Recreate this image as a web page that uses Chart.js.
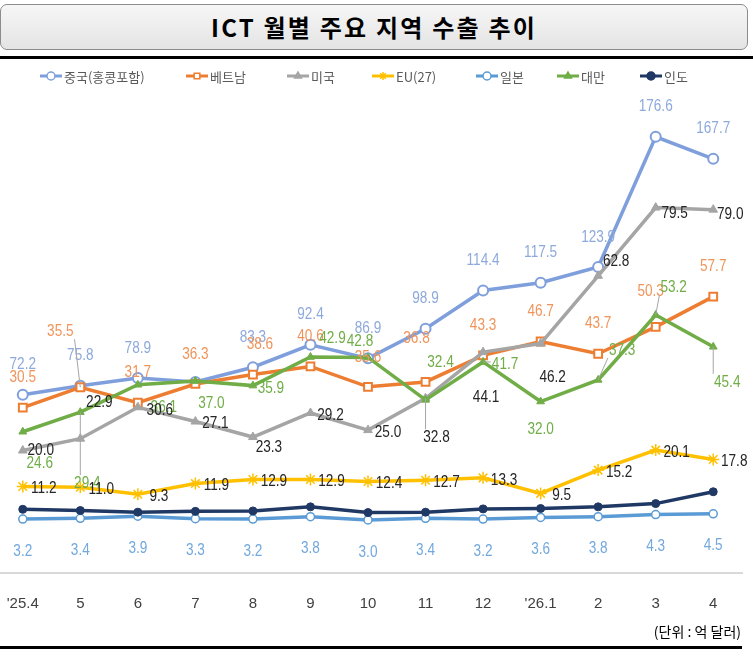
<!DOCTYPE html>
<html><head><meta charset="utf-8">
<script src="https://cdn.jsdelivr.net/npm/chart.js@4/dist/chart.umd.min.js"></script>
<style>
html,body{margin:0;padding:0;background:#fff;}
body{width:753px;height:657px;position:relative;overflow:hidden;font-family:"Noto Sans CJK KR",sans-serif;}
#title{position:absolute;left:0;top:4px;width:746px;height:44px;border:1px solid #8c8c8c;border-radius:7px;
 background:linear-gradient(#f6f6f6,#e4e4e4);text-align:center;line-height:44px;font-weight:bold;font-size:24px;letter-spacing:2.2px;color:#000;}
#ruleTop{position:absolute;left:0;top:56px;width:753px;height:3px;background:#000;}
#ruleBot{position:absolute;left:0;top:646px;width:742px;height:3px;background:#000;}
#unit{position:absolute;right:12px;top:621px;font-size:14px;color:#000;}
#c{position:absolute;left:-6px;top:0;}
</style></head>
<body>
<div id="title">ICT 월별 주요 지역 수출 추이</div>
<div id="ruleTop"></div>
<canvas id="c" width="760" height="645"></canvas>
<div id="unit">(단위 : 억 달러)</div>
<div id="ruleBot"></div>
<script>
const categories = ["'25.4","5","6","7","8","9","10","11","12","'26.1","2","3","4"];
const seriesNames = ["중국(홍콩포함)","베트남","미국","EU(27)","일본","대만","인도"];
const china   = [72.2,75.8,78.9,77.3,83.3,92.4,86.9,98.9,114.4,117.5,123.9,176.6,167.7];
const vietnam = [30.5,35.5,31.7,36.3,38.6,40.6,35.6,36.8,43.3,46.7,43.7,50.3,57.7];
const usa     = [20.0,22.9,30.6,27.1,23.3,29.2,25.0,32.8,44.1,46.2,62.8,79.5,79.0];
const eu      = [11.2,11.0,9.3,11.9,12.9,12.9,12.4,12.7,13.3,9.5,15.2,20.1,17.8];
const japan   = [3.2,3.4,3.9,3.3,3.2,3.8,3.0,3.4,3.2,3.6,3.8,4.3,4.5];
const taiwan  = [24.6,29.4,36.1,37.0,35.9,42.9,42.8,32.4,41.7,32.0,37.3,53.2,45.4];
const india   = [5.6,5.3,4.9,5.1,5.2,6.2,4.8,4.9,5.7,5.8,6.2,7.0,9.9];

// ---- styling / layout config (not data) ----
const lineColors  = ['#7F9FDC','#ED7D31','#A5A5A5','#FFC000','#5B9BD5','#70AD47','#203864'];
const labelColors = ['#8EA9DB','#F0945A','#262626','#262626','#72A8DC','#70AD47',null];
const labelLayout = [
  {def:[0,-30], over:{}, hide:[3]},
  {def:[0,-30], over:{1:[-20,-56],4:[7,-30],7:[-9,-44],11:[-5,-36]}, hide:[]},
  {def:[20,2], over:{0:[18,0],1:[19,-36],2:[22,3],4:[16,10],7:[11,39],8:[3,45],9:[12,34],10:[18,-14],11:[19,6],12:[17,5]}, hide:[]},
  {def:[21,2], over:{}, hide:[]},
  {def:[0,32], over:{}, hide:[]},
  {def:[18,3], over:{0:[17,32],1:[7,71],2:[26,23],3:[16,22],5:[22,-19],6:[-8,-16],7:[15,-38],8:[22,2],9:[0,28],10:[24,-30],11:[18,-28],12:[14,35]}, hide:[]},
  null
];
const leaders = [[1,1],[2,0],[2,7],[5,1],[5,8],[5,10],[5,11],[5,12]];
const labelOrder = [0,1,5,2,3,4];
const legendX = [40,186,287,372,476,557,640];
const LABEL_FONT = '17px "Liberation Sans","Arial",sans-serif';
const CONDENSE = 0.8;

function ds(i, data, style, axis){
  return Object.assign({
    label: seriesNames[i], data, yAxisID: axis || 'y',
    borderColor: lineColors[i], backgroundColor: lineColors[i],
    borderWidth: 3.5, tension: 0, clip: false, order: 7 - i
  }, style);
}
const datasets = [
  ds(0, china,   {pointStyle:'circle', pointRadius:5, pointBorderWidth:2, pointBackgroundColor:'#fff'}, 'y2'),
  ds(1, vietnam, {pointStyle:'rect', pointRadius:5.5, pointBorderWidth:2, pointBackgroundColor:'#fff'}),
  ds(2, usa,     {pointStyle:'triangle', pointRadius:5, pointBorderWidth:1, pointBackgroundColor:'#A5A5A5'}),
  ds(3, eu,      {pointStyle:'star', pointRadius:6, pointBorderWidth:1.5, pointBackgroundColor:'#FFC000'}),
  ds(4, japan,   {pointStyle:'circle', pointRadius:4, pointBorderWidth:1.5, pointBackgroundColor:'#fff'}),
  ds(5, taiwan,  {pointStyle:'triangle', pointRadius:4.5, pointBorderWidth:1, pointBackgroundColor:'#70AD47'}),
  ds(6, india,   {pointStyle:'circle', pointRadius:4, pointBorderWidth:1, pointBackgroundColor:'#203864'})
];

const legendPlugin = {
  id:'customLegend',
  afterDraw(chart){
    const ctx = chart.ctx;
    ctx.save();
    const y = 76;
    chart.data.datasets.forEach((d,i)=>{
      const x = legendX[i] + 6;
      ctx.strokeStyle = d.borderColor; ctx.lineWidth = 3;
      ctx.beginPath(); ctx.moveTo(x, y); ctx.lineTo(x+22, y); ctx.stroke();
      ctx.fillStyle = d.pointBackgroundColor; ctx.strokeStyle = d.borderColor; ctx.lineWidth = 1.5;
      Chart.helpers.drawPoint(ctx, {pointStyle:d.pointStyle, radius:4, borderWidth:1.5, rotation:0}, x+11, y);
      ctx.fillStyle = '#595959';
      ctx.font = '13px "Noto Sans CJK KR",sans-serif';
      ctx.textBaseline = 'middle'; ctx.textAlign = 'left';
      ctx.fillText(d.label, x+24, y+1);
    });
    ctx.restore();
  }
};

const labelPlugin = {
  id:'dataLabels',
  afterDatasetsDraw(chart){
    const ctx = chart.ctx;
    ctx.save();
    ctx.font = LABEL_FONT;
    ctx.textAlign = 'center'; ctx.textBaseline = 'middle';
    labelOrder.forEach(si=>{
      const lay = labelLayout[si]; if(!lay) return;
      const meta = chart.getDatasetMeta(si);
      const data = chart.data.datasets[si].data;
      meta.data.forEach((pt,k)=>{
        if(lay.hide.includes(k)) return;
        const off = lay.over[k] || lay.def;
        const tx = pt.x + off[0], ty = pt.y + off[1];
        const txt = data[k].toFixed(1);
        const w = ctx.measureText(txt).width * CONDENSE;
        if(leaders.some(l=>l[0]===si && l[1]===k)){
          const b = {x1:tx-w/2-1,x2:tx+w/2+1,y1:ty-8,y2:ty+8};
          const nx = Math.min(Math.max(pt.x,b.x1),b.x2), ny = Math.min(Math.max(pt.y,b.y1),b.y2);
          ctx.strokeStyle = '#A6A6A6'; ctx.lineWidth = 1;
          ctx.beginPath(); ctx.moveTo(pt.x,pt.y); ctx.lineTo(nx,ny); ctx.stroke();
        }
        ctx.fillStyle = labelColors[si];
        ctx.save(); ctx.translate(tx, ty); ctx.scale(CONDENSE, 1);
        ctx.fillText(txt, 0, 0);
        ctx.restore();
      });
    });
    ctx.restore();
  }
};

new Chart(document.getElementById('c'), {
  type:'line',
  data:{labels:categories, datasets},
  options:{
    responsive:false, animation:false,
    layout:{autoPadding:false, padding:{top:79,left:0,right:12,bottom:0}},
    plugins:{legend:{display:false}, tooltip:{enabled:false}, title:{display:false}},
    scales:{
      x:{
        offset:true,
        grid:{display:false, drawTicks:true, tickLength:22},
        border:{display:true, color:'#D9D9D9', width:2},
        ticks:{padding:0, color:'#404040', font:{size:15, family:'"Liberation Sans","Arial",sans-serif'}, autoSkip:false, maxRotation:0},
        afterFit(s){ s.height = 72; }
      },
      y:{display:false, min:-10, max:111},
      y2:{display:false, min:0, max:200, position:'right'}
    }
  },
  plugins:[legendPlugin, labelPlugin]
});
</script>
</body></html>
